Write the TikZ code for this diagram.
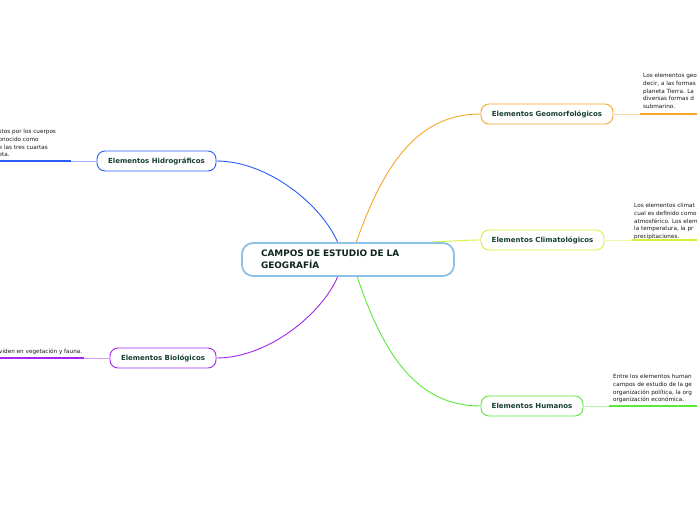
\documentclass[tikz,border=0pt]{standalone}
\usepackage{fontspec}
\setmainfont{DejaVu Sans}
\usetikzlibrary{calc}
\definecolor{txt}{HTML}{173F30}
\definecolor{cblue}{HTML}{8CC2E8}
\definecolor{corange}{HTML}{F7A62D}
\definecolor{cyellow}{HTML}{D6F23A}
\definecolor{cgreen}{HTML}{5AE83A}
\definecolor{cbl}{HTML}{2B5CF5}
\definecolor{cpur}{HTML}{A526F0}
\tikzset{
  central/.style={draw=cblue, line width=1.8pt, fill=white, rounded corners=11pt,
    minimum width=212pt, minimum height=33pt, text width=174pt, align=left,
    inner xsep=19pt, font=\fontsize{8.9}{11.6}\selectfont\bfseries, text=txt!60!black},
  branch/.style={draw=#1, line width=0.9pt, fill=white, rounded corners=8pt,
    minimum height=20pt, inner xsep=0pt, font=\fontsize{7}{8}\selectfont\bfseries, text=txt},
  desc/.style={inner sep=0pt, align=left, anchor=north west, font=\fontsize{5.7}{7.8}\selectfont, text=black!90},
  link/.style={draw=#1, line width=0.9pt},
  thin/.style={draw=#1!45, line width=0.9pt},
  thick/.style={draw=#1, line width=1.7pt}
}
\begin{document}
\begin{tikzpicture}[x=1pt,y=-1pt]
\useasboundingbox (0,0) rectangle (697,520);
\clip (0,0) rectangle (697,520);
\fill[white] (0,0) rectangle (697,520);

% descriptions
\node[desc] (dgeo) at (643,73) {Los elementos geo\\decir, a las formas\\planeta Tierra. La\\diversas formas d\\submarino.};
\node[desc] (dcli) at (634,203) {Los elementos climat\\cual es definido como\\atmosférico. Los elem\\la temperatura, la pr\\precipitaciones.};
\node[desc] (dhum) at (613,374) {Entre los elementos human\\campos de estudio de la ge\\organización política, la org\\organización económica.};
\node[desc] (dhid) at (-1.5,129) {stos por los cuerpos\\onocido como\\e las tres cuartas\\eta.};
\node[desc] (dbio) at (-1,349) {viden en vegetación y fauna.};

% edge coordinates
\coordinate (geoA) at (640,114); \coordinate (geoB) at (697,114);
\coordinate (cliA) at (632,240); \coordinate (cliB) at (697,240);
\coordinate (humA) at (609,406); \coordinate (humB) at (697,406);
\coordinate (hidA) at (71,161);  \coordinate (hidB) at (0,161);
\coordinate (bioA) at (84,358);  \coordinate (bioB) at (0,358);

% nodes
\node[branch=corange, minimum width=132pt] (geo) at (547,114) {Elementos Geomorfológicos};
\node[branch=cyellow, minimum width=123pt] (cli) at (542.5,240) {Elementos Climatológicos};
\node[branch=cgreen, minimum width=102pt] (hum) at (532,406) {Elementos Humanos};
\node[branch=cbl, minimum width=119pt] (hid) at (156.5,161) {Elementos Hidrográficos};
\node[branch=cpur, minimum width=106pt] (bio) at (163,358) {Elementos Biológicos};

% connectors center -> branches
\coordinate (c1) at (356,243);
\coordinate (c2) at (338,243);
\coordinate (c3) at (338,276);
\coordinate (c4) at (357,276);
\coordinate (c5) at (432,242);
\draw[link=corange] (c1) .. controls (385,160) and (420,114) .. (geo.west);
\draw[link=cbl] (c2) .. controls (322,205) and (268,161) .. (hid.east);
\draw[link=cpur] (c3) .. controls (322,314) and (268,358) .. (bio.east);
\draw[link=cgreen] (c4) .. controls (385,360) and (420,406) .. (hum.west);
\draw[link=cyellow] (c5) .. controls (455,241) and (465,240) .. (cli.west);

% branch -> description lines
\draw[thin=corange] (geo.east) -- (geoA); \draw[thick=corange] (geoA) -- (geoB);
\draw[thin=cyellow] (cli.east) -- (cliA); \draw[thick=cyellow] (cliA) -- (cliB);
\draw[thin=cgreen] (hum.east) -- (humA); \draw[thick=cgreen] (humA) -- (humB);
\draw[thin=cbl] (hid.west) -- (hidA); \draw[thick=cbl] (hidA) -- (hidB);
\draw[thin=cpur] (bio.west) -- (bioA); \draw[thick=cpur] (bioA) -- (bioB);

% central node
\node[central] (c) at (348,259.5) {CAMPOS DE ESTUDIO DE LA\\GEOGRAFÍA};
\end{tikzpicture}
\end{document}
